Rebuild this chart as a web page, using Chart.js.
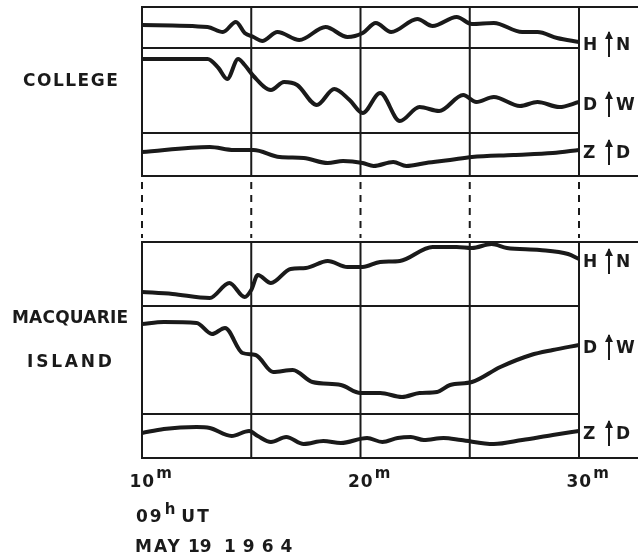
<!DOCTYPE html>
<html>
<head>
<meta charset="utf-8">
<script src="https://cdn.jsdelivr.net/npm/chart.js@4.4.1/dist/chart.umd.min.js"></script>
<style>
  body { margin: 0; background: #fff; }
  #wrap { position: relative; width: 638px; height: 560px; overflow: hidden; }
  #plot { position: absolute; left: 0; top: 0; }
  .txt {
    position: absolute;
    font-family: "DejaVu Sans", "Liberation Sans", sans-serif;
    font-weight: bold;
    font-size: 17px;
    line-height: 17px;
    color: #1a1a1a;
    white-space: nowrap;
  }
  .sup { font-size: 15px; vertical-align: 9px; margin-left: 1px; letter-spacing: 0; }
  .arrow { position: absolute; width: 2px; height: 25px; background: #1a1a1a; }
  .arrow::before {
    content: ""; position: absolute; left: -3px; top: -1px;
    border-left: 4px solid transparent; border-right: 4px solid transparent;
    border-bottom: 8px solid #1a1a1a;
  }
</style>
</head>
<body>
<div id="wrap">
  <canvas id="plot" width="638" height="560"></canvas>
</div>
<script>
// minutes after 09h UT
const collegeHTime = [10.0, 13.0, 13.7, 14.3, 14.7, 15.1, 15.5, 16.2, 17.2, 18.4, 19.4, 20.1, 20.7, 21.4, 22.6, 23.3, 24.4, 25.1, 26.1, 27.4, 28.1, 29.0, 30.0];
const collegeH = [23, 21, 16, 26, 15, 11, 7, 16, 8, 21, 11, 15, 25, 16, 29, 22, 31, 24, 25, 16, 16, 10, 6];

const collegeDTime = [10.0, 13.0, 13.5, 13.9, 14.4, 14.7, 15.1, 15.9, 16.5, 17.1, 18.0, 18.8, 19.5, 20.1, 20.9, 21.8, 22.7, 23.6, 24.7, 25.3, 26.1, 27.3, 28.1, 29.1, 30.0];
const collegeD = [74, 74, 65, 54, 74, 68, 57, 43, 51, 48, 28, 44, 33, 20, 40, 12, 26, 22, 38, 31, 36, 27, 31, 26, 31];

const collegeZTime = [10.0, 13.1, 14.2, 15.1, 16.3, 17.4, 18.5, 19.2, 20.1, 20.6, 21.5, 22.1, 23.0, 24.1, 25.1, 27.0, 28.8, 30.0];
const collegeZ = [24, 29, 26, 26, 19, 18, 13, 15, 13, 10, 14, 10, 13, 16, 19, 21, 23, 26];

const macqHTime = [10.0, 11.4, 13.1, 14.0, 14.7, 15.0, 15.3, 15.9, 16.8, 17.5, 18.5, 19.4, 20.1, 20.9, 21.8, 23.3, 24.4, 25.1, 26.0, 26.7, 28.2, 29.5, 30.0];
const macqH = [14, 12, 8, 23, 9, 16, 31, 23, 37, 38, 45, 39, 39, 44, 45, 59, 59, 58, 62, 58, 56, 52, 47];

const macqDTime = [10.0, 11.0, 12.5, 13.2, 13.8, 14.6, 15.2, 16.0, 16.9, 17.8, 19.1, 20.0, 20.9, 21.9, 22.7, 23.5, 24.1, 25.1, 26.4, 27.8, 28.8, 30.0];
const macqD = [90, 92, 91, 80, 86, 61, 59, 42, 44, 32, 29, 21, 21, 17, 21, 22, 29, 32, 47, 59, 64, 69];

const macqZTime = [10.0, 11.0, 12.5, 13.1, 14.1, 14.9, 15.3, 15.9, 16.6, 17.4, 18.3, 19.1, 20.3, 21.0, 21.7, 22.3, 22.9, 23.8, 24.6, 26.1, 27.4, 28.8, 30.0];
const macqZ = [25, 29, 31, 30, 22, 27, 22, 16, 21, 14, 17, 15, 20, 16, 20, 21, 18, 20, 18, 14, 18, 23, 27];

const gridTimes = [10, 15, 20, 25, 30];
const tickLabels = ['10', '20', '30'];
const tickTimes = [10, 20, 30];
const components = [['H', 'N'], ['D', 'W'], ['Z', 'D']];

const ink = '#1a1a1a';

function trace(times, values, axis) {
  return {
    data: times.map((t, i) => ({ x: t, y: values[i] })),
    yAxisID: axis,
    borderColor: ink,
    borderWidth: 4,
    pointRadius: 0,
    cubicInterpolationMode: 'monotone',
    fill: false
  };
}

// one hidden y axis per trace, stacked from the top down
function band(weight, order) {
  return {
    type: 'linear', position: 'left', stack: 'record', stackWeight: weight,
    weight: order, min: 0, max: weight, display: false
  };
}

const stations = [['cH', 'cD', 'cZ'], ['mH', 'mD', 'mZ']];

const framePlugin = {
  id: 'frame',
  beforeDatasetsDraw(chart) {
    const { ctx, chartArea, scales } = chart;
    const x = scales.x;
    const hline = (y, x0, x1) => { ctx.beginPath(); ctx.moveTo(x0, y); ctx.lineTo(x1, y); ctx.stroke(); };
    const vline = (xp, y0, y1) => { ctx.beginPath(); ctx.moveTo(xp, y0); ctx.lineTo(xp, y1); ctx.stroke(); };
    ctx.save();
    ctx.strokeStyle = ink;
    ctx.lineWidth = 2;
    stations.forEach(ids => {
      const top = scales[ids[0]].top;
      const bottom = scales[ids[2]].bottom;
      hline(top, chartArea.left - 1, chart.width);
      hline(bottom, chartArea.left - 1, chart.width);
      hline(scales[ids[0]].bottom, chartArea.left, chartArea.right);
      hline(scales[ids[1]].bottom, chartArea.left, chartArea.right);
      gridTimes.forEach(t => vline(x.getPixelForValue(t), top, bottom));
    });
    const gap = scales.gap;
    ctx.setLineDash([7, 6]);
    gridTimes.forEach(t => vline(x.getPixelForValue(t), gap.top + 6, gap.bottom - 4));
    ctx.restore();
  }
};

const chart = new Chart(document.getElementById('plot'), {
  type: 'line',
  data: {
    datasets: [
      trace(collegeHTime, collegeH, 'cH'),
      trace(collegeDTime, collegeD, 'cD'),
      trace(collegeZTime, collegeZ, 'cZ'),
      trace(macqHTime, macqH, 'mH'),
      trace(macqDTime, macqD, 'mD'),
      trace(macqZTime, macqZ, 'mZ')
    ]
  },
  options: {
    responsive: false,
    animation: false,
    events: [],
    layout: { padding: { left: 142, right: 59, top: 7, bottom: 102 } },
    plugins: { legend: { display: false }, tooltip: { enabled: false } },
    scales: {
      x: { type: 'linear', min: 10, max: 30, display: false },
      cH: band(41, 7),
      cD: band(85, 6),
      cZ: band(43, 5),
      gap: band(66, 4),
      mH: band(64, 3),
      mD: band(108, 2),
      mZ: band(44, 1)
    }
  },
  plugins: [framePlugin]
});

// text overlays, placed from the chart's own scales
const wrap = document.getElementById('wrap');
function addText(html, left, capTop, style) {
  const el = document.createElement('div');
  el.className = 'txt';
  el.innerHTML = html;
  el.style.left = left + 'px';
  el.style.top = (capTop - 2) + 'px';
  if (style) el.style.cssText += style;
  wrap.appendChild(el);
  return el;
}

addText('COLLEGE', 23, 74, 'letter-spacing:1.5px');
addText('MACQUARIE', 12, 311, 'letter-spacing:0.2px');
addText('ISLAND', 27, 355, 'letter-spacing:2.8px');

const xs = chart.scales.x;
const edgeX = xs.getPixelForValue(30);
const traceEnds = [
  ['cH', collegeH], ['cD', collegeD], ['cZ', collegeZ],
  ['mH', macqH], ['mD', macqD], ['mZ', macqZ]
];
traceEnds.forEach(([axis, values], i) => {
  const y = chart.scales[axis].getPixelForValue(values[values.length - 1]);
  const capTop = Math.round(y + 2 - 6);
  const [comp, dir] = components[i % 3];
  addText(comp, edgeX + 4, capTop);
  const arrow = document.createElement('div');
  arrow.className = 'arrow';
  arrow.style.left = (edgeX + 29) + 'px';
  arrow.style.top = (capTop - 6) + 'px';
  wrap.appendChild(arrow);
  addText(dir, edgeX + 37, capTop);
});

tickTimes.forEach((t, i) => {
  const el = addText('<span class="num" style="letter-spacing:1px">' + tickLabels[i] + '</span><span class="sup">m</span>', 0, 467);
  const num = el.querySelector('.num');
  el.style.left = (xs.getPixelForValue(t) - (num.offsetWidth - 1) / 2) + 'px';
});

addText('09<span class="sup" style="vertical-align:8px">h</span><span style="margin-left:6px">UT</span>', 136, 503, 'letter-spacing:2px');
addText('MAY', 135, 540, 'letter-spacing:2px');
addText('19', 188, 540, 'letter-spacing:0px');
addText('1964', 224, 540, 'letter-spacing:7px');
</script>
</body>
</html>
